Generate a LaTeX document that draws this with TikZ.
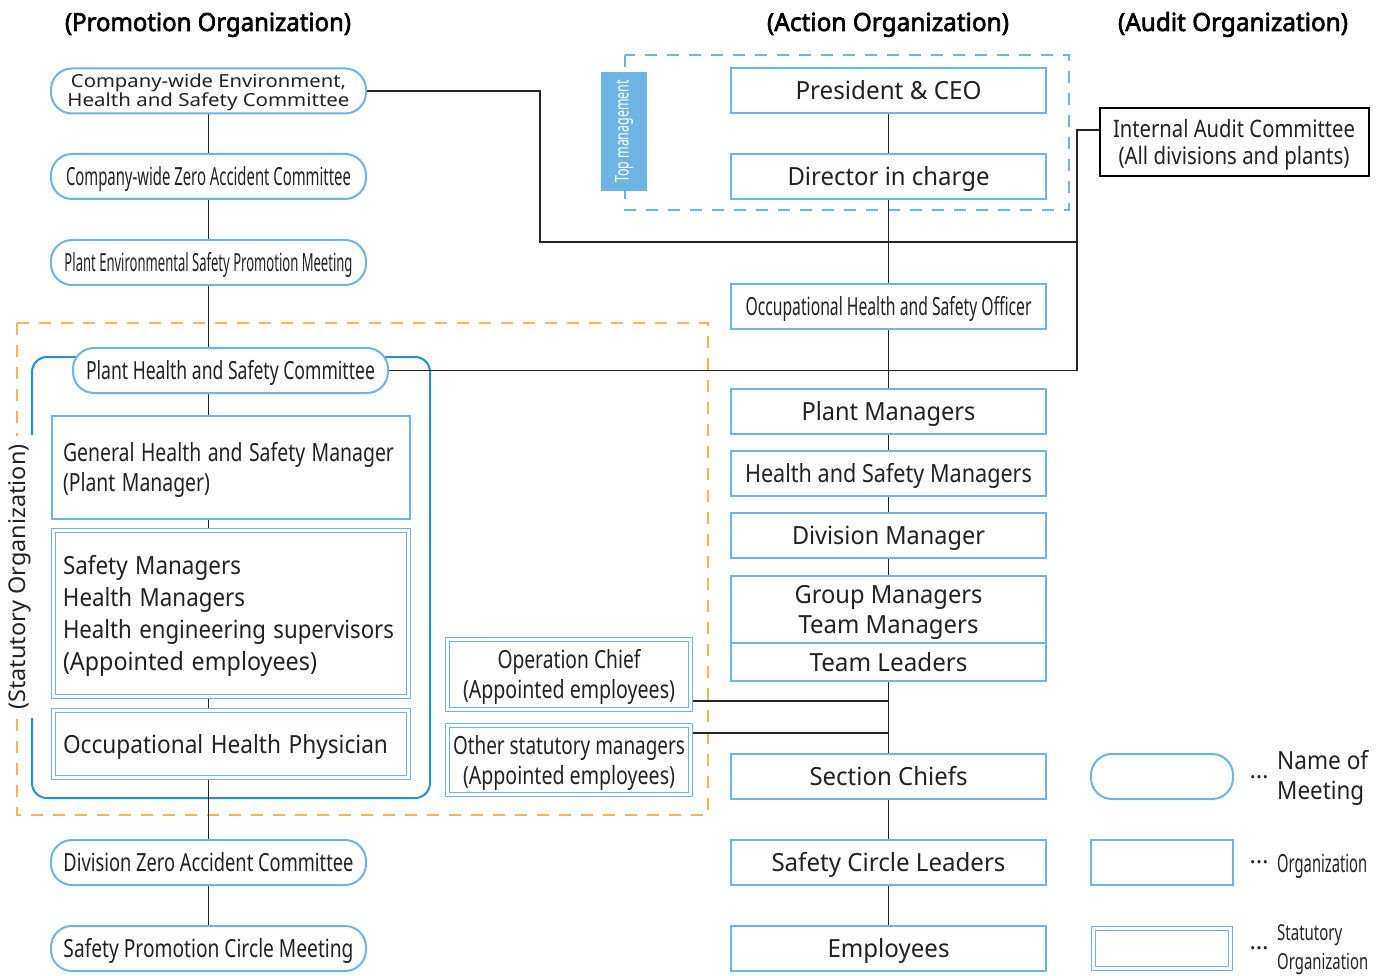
\documentclass[tikz,border=0pt]{standalone}
\usepackage{fontspec}
\setmainfont{Noto Sans}
\newfontfamily\tfont{Noto Sans}[FakeBold=2.5]
\usepackage{graphicx}
\usetikzlibrary{backgrounds}
\definecolor{bl}{HTML}{6DB5E5}
\definecolor{bd}{HTML}{1E93D6}
\definecolor{og}{HTML}{F7B750}
\definecolor{tx}{HTML}{222222}
\newcommand\tw[2]{\resizebox{#1pt}{\height}{#2}}
% first line: height cut to cap height; last line: depth cut to zero
\newcommand\tf[2]{\raisebox{0pt}[0.72em][\depth]{\resizebox{#1pt}{\height}{#2}}}
\newcommand\tl[2]{\raisebox{0pt}[\height][0pt]{\resizebox{#1pt}{\height}{#2}}}
\begin{document}
\begin{tikzpicture}[x=1pt,y=-1pt,
 every node/.style={text=tx, inner sep=0pt, font=\fontsize{25}{30}\selectfont},
 one/.style={text height=18pt, text depth=0pt},
 meet/.style={draw=bl, line width=2pt, fill=white, rounded corners=21pt, minimum width=315pt, minimum height=45pt},
 org/.style={draw=bl, line width=2pt, fill=white, minimum width=315pt, minimum height=45pt},
 stat/.style={draw=bl, line width=1.4pt, double=white, double distance=2.4pt, fill=white},
 conn/.style={draw=black!85, line width=1.3pt},
 title/.style={font=\tfont\fontsize{25}{30}\selectfont, text=black, one},
 frame/.style={line width=2pt, dash pattern=on 12pt off 10pt},
 dots/.style={font=\fontsize{24}{24}\selectfont}
]
\useasboundingbox (0,0) rectangle (1389,976);

% titles
\node[title] (tp) at (208,22) {\tw{286}{(Promotion Organization)}};
\node[title] (ta) at (888,22) {\tw{242}{(Action Organization)}};
\node[title] (tau) at (1233,22) {\tw{230}{(Audit Organization)}};

% left column
\node[meet, font=\fontsize{18}{19}\selectfont, align=center] (cehs) at (208.5,91) {\tf{275}{Company-wide Environment,}\\\tl{282}{Health and Safety Committee}};
\node[meet, one] (zero) at (208.5,176.5) {\tw{285}{Company-wide Zero Accident Committee}};
\node[meet, one] (pesp) at (208.5,262.5) {\tw{288}{Plant Environmental Safety Promotion Meeting}};
\node[meet, one] (phsc) at (230.5,370.5) {\tw{289}{Plant Health and Safety Committee}};
\node[org, minimum width=358pt, minimum height=103pt, text width=336pt, align=left] (ghsm) at (231,467.5) {\tf{331}{General Health and Safety Manager}\\\tl{147}{(Plant Manager)}};
\node[stat, minimum width=355pt, minimum height=166pt, text width=336pt, align=left, font=\fontsize{25}{31.7}\selectfont] (smgr) at (231,613.5) {\tf{178}{Safety Managers}\\\tw{182}{Health Managers}\\\tw{331}{Health engineering supervisors}\\\tl{254}{(Appointed employees)}};
\node[stat, one, minimum width=355pt, minimum height=67pt, text width=336pt, align=left] (ohp) at (231,744) {\tw{325}{Occupational Health Physician}};
\node[stat, minimum width=243pt, minimum height=70pt, align=center] (opc) at (569,674.5) {\tf{143}{Operation Chief}\\\tl{212}{(Appointed employees)}};
\node[stat, minimum width=243pt, minimum height=69pt, align=center] (osm) at (569,760) {\tf{232}{Other statutory managers}\\\tl{212}{(Appointed employees)}};
\node[meet, one] (dzac) at (208.5,862.5) {\tw{290}{Division Zero Accident Committee}};
\node[meet, one] (spcm) at (208.5,948.5) {\tw{290}{Safety Promotion Circle Meeting}};
\node[rotate=90, fill=white, minimum width=283pt, font=\fontsize{23}{25}\selectfont] (slab) at (20,577) {\tw{265}{(Statutory Organization)}};

% right column
\node[org, one] (pres) at (888.5,90.5) {\tw{186}{President \& CEO}};
\node[org, one] (dir) at (888.5,176.5) {\tw{202}{Director in charge}};
\node[org, one] (ohso) at (888.5,306.5) {\tw{286}{Occupational Health and Safety Officer}};
\node[org, one] (pm) at (888.5,411.5) {\tw{174}{Plant Managers}};
\node[org, one] (hsm) at (888.5,473.5) {\tw{287}{Health and Safety Managers}};
\node[org, one] (dm) at (888.5,535.5) {\tw{193}{Division Manager}};
\node[org, minimum height=67pt, align=center] (gm) at (888.5,609.5) {\tf{188}{Group Managers}\\\tl{180}{Team Managers}};
\node[org, one, minimum height=38pt] (tlead) at (888.5,662) {\tw{158}{Team Leaders}};
\node[org, one] (sc) at (888.5,776.5) {\tw{158}{Section Chiefs}};
\node[org, one] (scl) at (888.5,862.5) {\tw{234}{Safety Circle Leaders}};
\node[org, one] (emp) at (888.5,948.5) {\tw{122}{Employees}};

% top management label
\node[fill=bl, minimum width=119pt, minimum height=46pt, rotate=90, text=white, font=\fontsize{19}{20}\selectfont] (topm) at (624,131.5) {\tw{103}{Top management}};

% audit
\node[draw=black, line width=2pt, fill=white, minimum width=269pt, minimum height=68pt, align=center, font=\fontsize{24}{27}\selectfont] (audit) at (1234,142.5) {\tf{242}{Internal Audit Committee}\\\tl{231}{(All divisions and plants)}};

% legend
\node[meet, minimum width=142pt] (lg1) at (1162,776.5) {};
\node[dots] (d1) at (1259,777) {…};
\node[anchor=west, align=left] (lt1) at (1277,775) {\tf{91}{Name of}\\\tl{87}{Meeting}};
\node[org, minimum width=142pt] (lg2) at (1162,862.5) {};
\node[dots] (d2) at (1259,862) {…};
\node[anchor=west, one] (lt2) at (1277,863) {\tw{90}{Organization}};
\node[stat, minimum width=137pt, minimum height=40pt] (lg3) at (1162,948.5) {};
\node[dots] (d3) at (1259,948) {…};
\node[anchor=west, align=left, font=\fontsize{22}{29}\selectfont] (lt3) at (1277,947.5) {\tf{65}{Statutory}\\\tl{91}{Organization}};

% coordinates
\coordinate (aj) at (1077,130);
\coordinate (cj) at (1077,370.5);
\coordinate (cb) at (540,242);
\coordinate (bj) at (1077,242);
\coordinate (oj) at (888.5,701);
\coordinate (sj) at (888.5,733);

\begin{pgfonlayer}{background}
\draw[frame, og] (17,323) rectangle (708,815);
\draw[frame, bl] (625,55) rectangle (1069,210);
\draw[bd, line width=2pt, rounded corners=15pt] (32,435) -- (32,357) -- (430,357) -- (430,798) -- (32,798) -- (32,718);
\draw[conn] (cehs) -- (spcm);
\draw[conn] (pres) -- (emp);
\draw[conn] ([yshift=12.5pt]audit.west) -- (aj) -- (cj) -- (phsc.east);
\draw[conn] (cehs.east) -| (cb) -- (bj);
\draw[conn] ([yshift=-26.5pt]opc.east) -- (oj);
\draw[conn] ([yshift=27pt]osm.east) -- (sj);
\end{pgfonlayer}
\end{tikzpicture}
\end{document}
